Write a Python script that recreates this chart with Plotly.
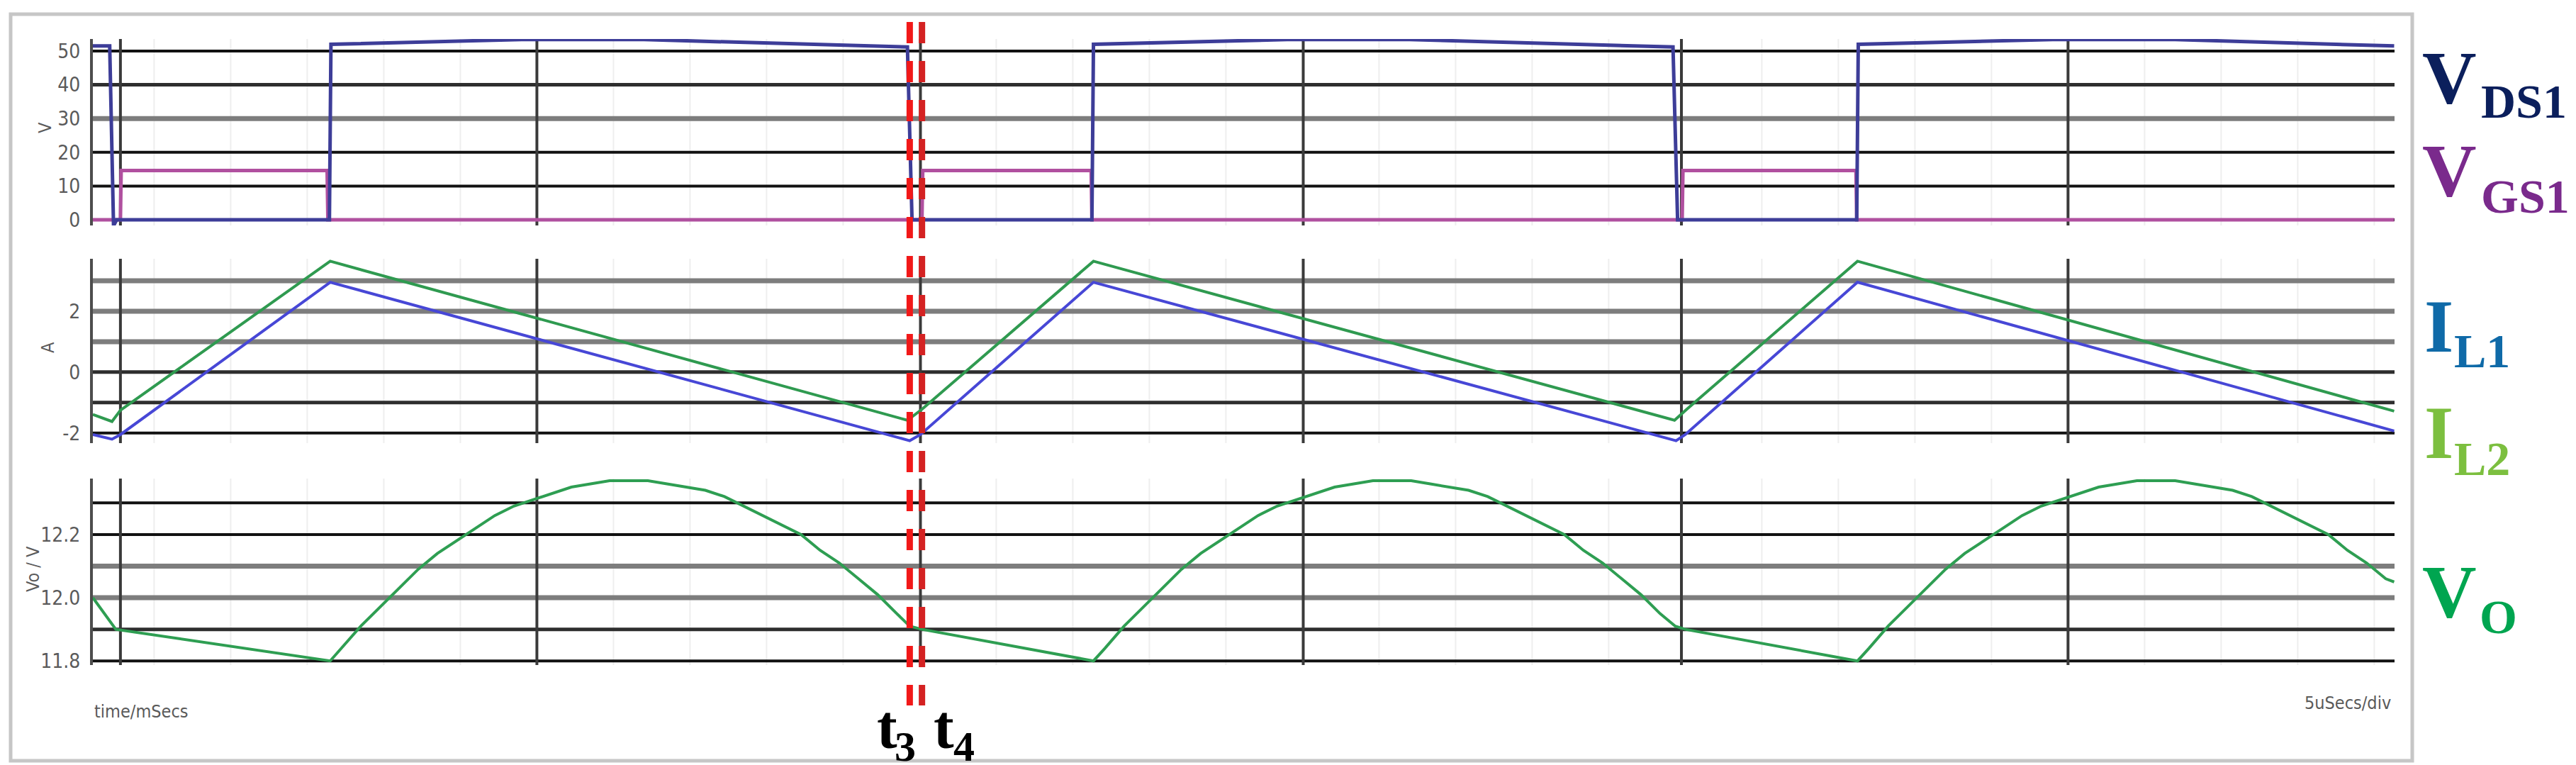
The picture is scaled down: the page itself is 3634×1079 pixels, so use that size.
import plotly.graph_objects as go

# ---------------- data (time in microseconds) ----------------
t_vds = [0, 0.22, 0.27, 0.31, 3.09, 3.11, 5.6, 7.2, 10.64, 10.70, 13.05, 13.07, 15.6, 17.2,
         20.64, 20.70, 23.04, 23.06, 25.6, 27.2, 30.06]
vds = [51.5, 51.5, -1.8, 0, 0, 52.0, 53.4, 53.4, 51.2, 0, 0, 52.0, 53.4, 53.4,
       51.2, 0, 0, 52.0, 53.4, 53.4, 51.5]

t_vgs = [0, 0.36, 0.37, 3.06, 3.07, 10.83, 10.84, 13.04, 13.05, 20.76, 20.77, 23.03, 23.04, 30.06]
vgs = [0, 0, 14.6, 14.6, 0, 0, 14.6, 14.6, 0, 0, 14.6, 14.6, 0, 0]

t_il1 = [0, 0.25, 0.36, 3.10, 10.67, 10.81, 13.07, 20.68, 20.80, 23.05, 30.06]
il1 = [-2.05, -2.2, -2.05, 2.95, -2.25, -2.05, 2.95, -2.25, -2.05, 2.95, -1.93]

t_il2 = [0, 0.25, 0.36, 3.10, 10.64, 10.83, 13.07, 20.66, 20.82, 23.05, 30.06]
il2 = [-1.39, -1.62, -1.25, 3.64, -1.58, -1.22, 3.64, -1.58, -1.22, 3.64, -1.28]

# output voltage
t_vo = [0, 0.3,
        3.10, 3.25, 3.5, 3.75, 4.0, 4.25, 4.5, 4.75, 5.0, 5.25, 5.5, 5.75, 6.0, 6.25, 6.5, 6.75,
        7.0, 7.25, 7.5, 7.75, 8.0, 8.25, 8.5, 8.75, 9.0, 9.25, 9.5, 9.75, 10.0, 10.25, 10.5,
        10.67, 10.83,
        13.07, 13.22, 13.47, 13.72, 13.97, 14.22, 14.47, 14.72, 14.97, 15.22, 15.47, 15.72,
        15.97, 16.22, 16.47, 16.72, 16.97, 17.22, 17.47, 17.72, 17.97, 18.22, 18.47, 18.72,
        18.97, 19.22, 19.47, 19.72, 19.97, 20.22, 20.47,
        20.67, 20.80,
        23.05, 23.20, 23.45, 23.70, 23.95, 24.20, 24.45, 24.70, 24.95, 25.20, 25.45, 25.70,
        25.95, 26.20, 26.45, 26.70, 26.95, 27.20, 27.45, 27.70, 27.95, 28.20, 28.45, 28.70,
        28.95, 29.20, 29.45, 29.70, 29.95, 30.06]
vo = [12.0, 11.9,
      11.80, 11.84, 11.91, 11.97, 12.03, 12.09, 12.14, 12.18, 12.22, 12.26, 12.29, 12.31, 12.33,
      12.35, 12.36, 12.37, 12.37, 12.37, 12.36, 12.35, 12.34, 12.32, 12.29, 12.26, 12.23, 12.20,
      12.15, 12.11, 12.06, 12.01, 11.95,
      11.91, 11.90,
      11.80, 11.84, 11.91, 11.97, 12.03, 12.09, 12.14, 12.18, 12.22, 12.26, 12.29, 12.31, 12.33,
      12.35, 12.36, 12.37, 12.37, 12.37, 12.36, 12.35, 12.34, 12.32, 12.29, 12.26, 12.23, 12.20,
      12.15, 12.11, 12.06, 12.01, 11.95,
      11.91, 11.90,
      11.80, 11.84, 11.91, 11.97, 12.03, 12.09, 12.14, 12.18, 12.22, 12.26, 12.29, 12.31, 12.33,
      12.35, 12.36, 12.37, 12.37, 12.37, 12.36, 12.35, 12.34, 12.32, 12.29, 12.26, 12.23, 12.20,
      12.15, 12.11, 12.06, 12.05]

div_lines = [0.36, 5.80, 10.81, 15.81, 20.75, 25.80]
minor_lines = [0.8, 1.8, 2.8, 3.8, 4.8, 6.8, 7.8, 8.8, 9.8, 11.8, 12.8, 13.8, 14.8, 16.8, 17.8,
               18.8, 19.8, 21.8, 22.8, 23.8, 24.8, 26.8, 27.8, 28.8, 29.8]
t3_t4 = [10.67, 10.83]
t_labels = ["3", "4"]

p1_grid = [50, 40, 30, 20, 10, 0]
p2_grid = [3, 2, 1, 0, -1, -2]
p3_grid = [12.3, 12.2, 12.1, 12.0, 11.9, 11.8]
p1_ticks = [0, 10, 20, 30, 40, 50]
p2_ticks = [-2, 0, 2]
p3_ticks = [11.8, 12.0, 12.2]
p3_ticktext = ["11.8", "12.0", "12.2"]

# ---------------- styling / layout ----------------
W, H = 3634, 1079
def fx(px): return px / W
def fy(py): return 1 - py / H

X0, X1 = 123, 3370
XR = [0, (X1 - X0) / 108.0]
panels = [(47, 310, [-1.68, 53.57]), (357, 617, [-2.33, 3.72]), (667, 930, [11.787, 12.377])]
gray_grid = {1: [30], 2: [3, 2, 1], 3: [12.1, 12.0]}
dark_grid = {1: [40], 2: [0, -1], 3: [11.9]}

narrow = "Liberation Sans Narrow, DejaVu Sans Condensed, Arial Narrow, sans-serif"
tickfont = dict(family=narrow, size=28, color="#5a5a5a")

fig = go.Figure()
fig.add_trace(go.Scatter(x=t_vgs, y=vgs, mode="lines", line=dict(color="#b0509f", width=5),
                         xaxis="x", yaxis="y", hoverinfo="skip"))
fig.add_trace(go.Scatter(x=t_vds, y=vds, mode="lines", line=dict(color="#3d3d98", width=5),
                         xaxis="x", yaxis="y", hoverinfo="skip"))
fig.add_trace(go.Scatter(x=t_il2, y=il2, mode="lines", line=dict(color="#2f9a50", width=4),
                         xaxis="x2", yaxis="y2", hoverinfo="skip"))
fig.add_trace(go.Scatter(x=t_il1, y=il1, mode="lines", line=dict(color="#4747d6", width=4),
                         xaxis="x2", yaxis="y2", hoverinfo="skip"))
fig.add_trace(go.Scatter(x=t_vo, y=vo, mode="lines", line=dict(color="#2e9e52", width=4),
                         xaxis="x3", yaxis="y3", hoverinfo="skip"))

layout = dict(width=W, height=H, margin=dict(l=0, r=0, t=0, b=0),
              paper_bgcolor="white", plot_bgcolor="white", showlegend=False)

ticksets = [(p1_ticks, [str(v) for v in p1_ticks]), (p2_ticks, [str(v) for v in p2_ticks]),
            (p3_ticks, p3_ticktext)]
for i, (top, bot, yr) in enumerate(panels, start=1):
    sx = "" if i == 1 else str(i)
    xa = dict(domain=[fx(X0), fx(X1)], range=XR, anchor="y" + sx,
              showticklabels=False, zeroline=False, showline=False, showgrid=False,
              automargin=False)
    if i > 1:
        xa["matches"] = "x"
    layout["xaxis" + sx] = xa
    layout["yaxis" + sx] = dict(domain=[fy(bot), fy(top)], range=yr, anchor="x" + sx,
                                showgrid=False, zeroline=False, showline=True,
                                linecolor="#4d4d4d", linewidth=4,
                                tickvals=ticksets[i - 1][0], ticktext=ticksets[i - 1][1],
                                ticks="outside", ticklen=8, tickcolor="rgba(0,0,0,0)",
                                tickfont=tickfont, automargin=False)
fig.update_layout(**layout)

shapes = []
# outer frame
shapes.append(dict(type="rect", xref="paper", yref="paper", x0=fx(7), x1=fx(3395),
                   y0=fy(1065), y1=fy(12), line=dict(color="#c6c6c6", width=5), layer="below"))
grids = {1: p1_grid, 2: p2_grid, 3: p3_grid}
for i in (1, 2, 3):
    sx = "" if i == 1 else str(i)
    yr = panels[i - 1][2]
    for xv in minor_lines:
        shapes.append(dict(type="line", xref="x" + sx, yref="y" + sx,
                           x0=xv, x1=xv, y0=yr[0], y1=yr[1], line=dict(color="#eeeeee", width=2),
                           layer="below"))
    for v in grids[i]:
        if v in gray_grid[i]:
            col, w = "#7d7d7d", 7
        elif v in dark_grid[i]:
            col, w = "#2e2e2e", 5
        else:
            col, w = "#111111", 4
        shapes.append(dict(type="line", xref="x" + sx, yref="y" + sx,
                           x0=XR[0], x1=XR[1], y0=v, y1=v, line=dict(color=col, width=w),
                           layer="below"))
    for xv in div_lines:
        shapes.append(dict(type="line", xref="x" + sx, yref="y" + sx,
                           x0=xv, x1=xv, y0=yr[0], y1=yr[1], line=dict(color="#3a3a3a", width=4),
                           layer="below"))

red_cols = ["#f21818", "#d42222"]
for xv, c in zip(t3_t4, red_cols):
    shapes.append(dict(type="line", xref="x", yref="paper", x0=xv, x1=xv,
                       y0=fy(23), y1=fy(987), line=dict(color=c, width=9, dash="30px,25px"),
                       layer="above"))
fig.update_layout(shapes=shapes)

ann = []
gfont = dict(family=narrow, size=25, color="#5a5a5a")
for txt, x, y in [("V", 55, 172), ("A", 60, 482), ("Vo / V", 38, 795)]:
    ann.append(dict(text=txt, x=fx(x), y=fy(y), xref="paper", yref="paper", showarrow=False,
                    textangle=-90, font=gfont, xanchor="center", yanchor="middle"))
ann.append(dict(text="time/mSecs", x=fx(123), y=fy(995), xref="paper", yref="paper",
                showarrow=False, font=gfont, xanchor="left", yanchor="middle"))
ann.append(dict(text="5uSecs/div", x=fx(3367), y=fy(983), xref="paper", yref="paper",
                showarrow=False, font=gfont, xanchor="right", yanchor="middle"))

serif = "Liberation Serif, Times New Roman, DejaVu Serif, serif"
labels = [
    ("V", "DS1", "#0b1f5c", 3407, 101, 3490, 135),
    ("V", "GS1", "#7a2a8c", 3407, 232, 3490, 269),
    ("I", "L1", "#0f6aa8", 3410, 452, 3452, 487),
    ("I", "L2", "#7cbf3f", 3410, 602, 3452, 639),
    ("V", "O", "#00a550", 3407, 826, 3488, 862),
]
for big, sub, col, bx, by, sxp, syp in labels:
    ann.append(dict(text="<b>%s</b>" % big, x=fx(bx), y=fy(by), xref="paper", yref="paper",
                    showarrow=False, xanchor="left", yanchor="middle",
                    font=dict(family=serif, size=106, color=col)))
    ann.append(dict(text="<b>%s</b>" % sub, x=fx(sxp), y=fy(syp), xref="paper", yref="paper",
                    showarrow=False, xanchor="left", yanchor="middle",
                    font=dict(family=serif, size=68, color=col)))

for (tx, sxp), lab in zip([(1227, 1252), (1307, 1335)], t_labels):
    ann.append(dict(text="<b>t</b>", x=fx(tx), y=fy(1018), xref="paper", yref="paper",
                    showarrow=False, xanchor="left", yanchor="middle",
                    font=dict(family=serif, size=86, color="#000000")))
    ann.append(dict(text="<b>%s</b>" % lab, x=fx(sxp), y=fy(1045), xref="paper", yref="paper",
                    showarrow=False, xanchor="left", yanchor="middle",
                    font=dict(family=serif, size=60, color="#000000")))
fig.update_layout(annotations=ann)

fig.write_html("out.html")
